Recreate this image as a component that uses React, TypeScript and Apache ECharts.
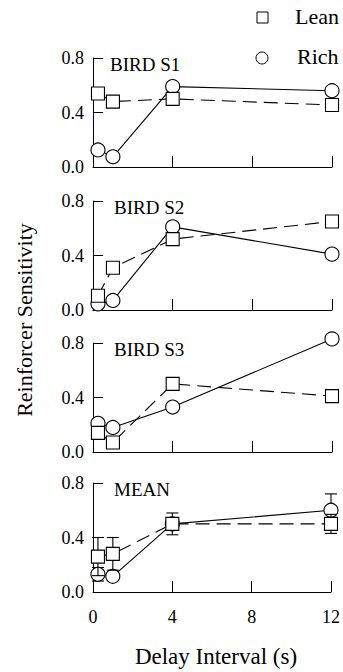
import React, { useEffect, useRef } from "react";
import * as echarts from "echarts";

const delays = [0.25, 1, 4, 12];
const panelTitles = ["BIRD S1", "BIRD S2", "BIRD S3", "MEAN"];
const leanValues = [
  [0.54, 0.48, 0.5, 0.455],
  [0.105, 0.31, 0.52, 0.65],
  [0.14, 0.07, 0.5, 0.41],
  [0.26, 0.28, 0.5, 0.5],
];
const richValues = [
  [0.125, 0.075, 0.59, 0.56],
  [0.045, 0.07, 0.61, 0.41],
  [0.21, 0.18, 0.33, 0.83],
  [0.13, 0.115, 0.5, 0.6],
];
// mean panel error bars: [delay, low, high]
const leanErrors = [
  [0.25, 0.12, 0.4],
  [1, 0.16, 0.4],
  [4, 0.42, 0.58],
  [12, 0.43, 0.57],
];
const richErrors = [
  [0.25, 0.08, 0.18],
  [12, 0.48, 0.72],
];
const xTicks = [0, 4, 8, 12];
const yTicks = [0, 0.4, 0.8];

const FONT = "Liberation Serif";
const gridTops = [58, 201, 343, 483];
const gridH = 109;

export default function App() {
  const ref = useRef<HTMLDivElement>(null);
  useEffect(() => {
    if (!ref.current) return;
    const chart = echarts.init(ref.current, null, { renderer: "svg" });
    const grids = gridTops.map((t) => ({ left: 93, width: 239, top: t, height: gridH }));
    const xAxes = gridTops.map((_, i) => ({
      type: "value",
      gridIndex: i,
      min: xTicks[0],
      max: xTicks[xTicks.length - 1],
      interval: 4,
      axisLine: { show: true, onZero: false, lineStyle: { color: "#000", width: 1 } },
      axisTick: { show: true, inside: true, length: 11, lineStyle: { color: "#000" } },
      axisLabel: {
        show: i === 3,
        color: "#000",
        fontFamily: FONT,
        fontSize: 18,
        margin: 16,
      },
      splitLine: { show: false },
    }));
    const yAxes = gridTops.map((_, i) => ({
      type: "value",
      gridIndex: i,
      min: yTicks[0],
      max: yTicks[yTicks.length - 1],
      interval: 0.4,
      axisLine: { show: true, lineStyle: { color: "#000", width: 1 } },
      axisTick: { show: true, inside: true, length: 10, lineStyle: { color: "#000" } },
      axisLabel: {
        color: "#000",
        fontFamily: FONT,
        fontSize: 18,
        margin: 9,
        formatter: (v: number) => v.toFixed(1),
      },
      splitLine: { show: false },
    }));

    const series: any[] = [];
    gridTops.forEach((_, i) => {
      series.push({
        type: "line",
        name: "Rich",
        xAxisIndex: i,
        yAxisIndex: i,
        data: delays.map((d, k) => [d, richValues[i][k]]),
        symbol: "circle",
        symbolSize: 14,
        clip: false,
        z: 2,
        lineStyle: { color: "#000", width: 1.1 },
        itemStyle: { color: "#fff", borderColor: "#000", borderWidth: 1.1 },
      });
      series.push({
        type: "line",
        name: "Lean",
        xAxisIndex: i,
        yAxisIndex: i,
        data: delays.map((d, k) => [d, leanValues[i][k]]),
        symbol: "rect",
        symbolSize: 13,
        clip: false,
        z: 4,
        lineStyle: { color: "#000", width: 1.1, type: [14, 7] },
        itemStyle: { color: "#fff", borderColor: "#000", borderWidth: 1.1 },
      });
    });

    const errRender = (params: any, api: any) => {
      const x = api.value(0);
      const lo = api.coord([x, api.value(1)]);
      const hi = api.coord([x, api.value(2)]);
      const cw = 6;
      const st = { stroke: "#000", lineWidth: 1.1 };
      return {
        type: "group",
        children: [
          { type: "line", shape: { x1: lo[0], y1: lo[1], x2: hi[0], y2: hi[1] }, style: st },
          { type: "line", shape: { x1: lo[0] - cw, y1: lo[1], x2: lo[0] + cw, y2: lo[1] }, style: st },
          { type: "line", shape: { x1: hi[0] - cw, y1: hi[1], x2: hi[0] + cw, y2: hi[1] }, style: st },
        ],
      };
    };
    series.push({
      type: "custom",
      name: "RichErr",
      xAxisIndex: 3,
      yAxisIndex: 3,
      z: 1,
      clip: false,
      data: richErrors,
      renderItem: errRender,
    });
    series.push({
      type: "custom",
      name: "LeanErr",
      xAxisIndex: 3,
      yAxisIndex: 3,
      z: 3,
      clip: false,
      data: leanErrors,
      renderItem: errRender,
    });

    const graphic: any[] = [
      {
        type: "rect",
        shape: { x: 257, y: 12, width: 11, height: 11 },
        style: { fill: "#fff", stroke: "#000", lineWidth: 1 },
      },
      {
        type: "text",
        left: 295,
        top: 5,
        style: { text: "Lean", font: `22px "${FONT}"`, fill: "#000" },
      },
      {
        type: "circle",
        shape: { cx: 262, cy: 58, r: 6 },
        style: { fill: "#fff", stroke: "#000", lineWidth: 1 },
      },
      {
        type: "text",
        left: 297,
        top: 45,
        style: { text: "Rich", font: `22px "${FONT}"`, fill: "#000" },
      },
      {
        type: "text",
        x: 24,
        y: 320,
        rotation: Math.PI / 2,
        style: {
          text: "Reinforcer Sensitivity",
          font: `22px "${FONT}"`,
          fill: "#000",
          align: "center",
          verticalAlign: "middle",
        },
      },
      {
        type: "text",
        x: 216,
        y: 656,
        style: {
          text: "Delay Interval (s)",
          font: `23px "${FONT}"`,
          fill: "#000",
          align: "center",
          verticalAlign: "middle",
        },
      },
    ];
    panelTitles.forEach((t, i) => {
      graphic.push({
        type: "text",
        x: i === 0 ? 110 : 114,
        y: gridTops[i] + 6,
        style: { text: t, font: `19px "${FONT}"`, fill: "#000", verticalAlign: "middle" },
      });
    });

    chart.setOption({
      animation: false,
      backgroundColor: "#fff",
      grid: grids,
      xAxis: xAxes,
      yAxis: yAxes,
      series,
      graphic,
    });
    return () => chart.dispose();
  }, []);
  return (
    <div
      ref={ref}
      style={{ position: "fixed", left: 0, top: 0, width: 343, height: 672 }}
    />
  );
}
